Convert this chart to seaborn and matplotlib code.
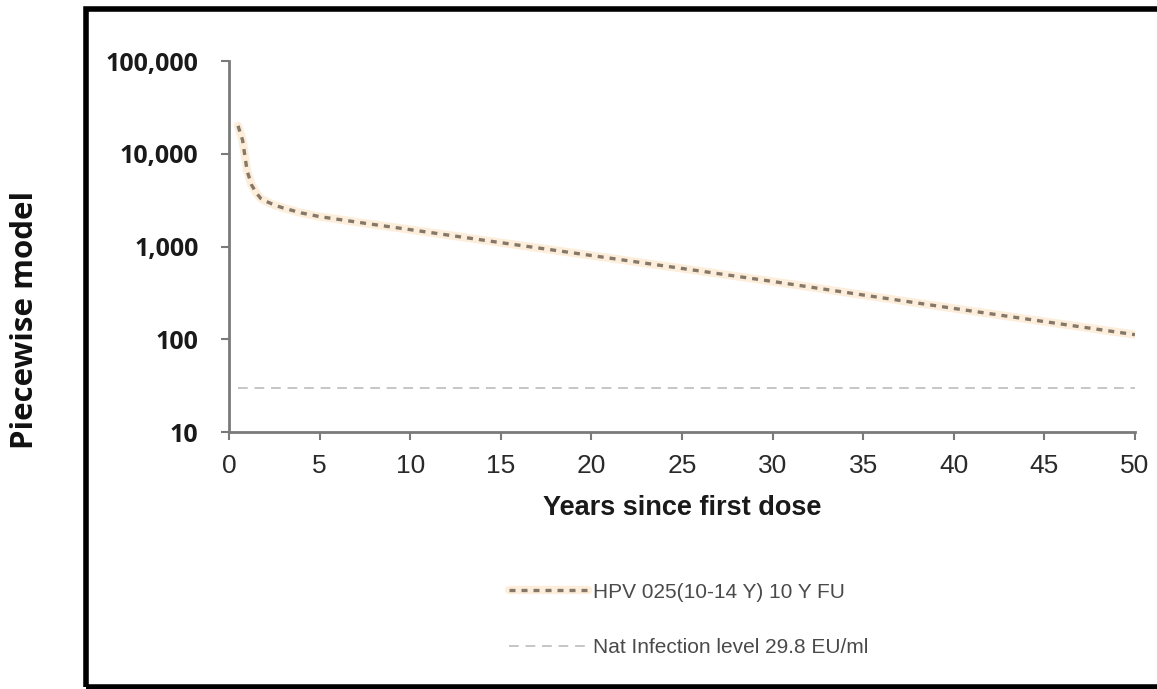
import numpy as np
import pandas as pd
import matplotlib
matplotlib.use("Agg")
import matplotlib.pyplot as plt
from matplotlib.lines import Line2D
from matplotlib.patches import Rectangle
from matplotlib.ticker import FixedLocator, NullLocator
from matplotlib.legend_handler import HandlerTuple
import seaborn as sns

# Modelled antibody titre over time (piecewise model)
years = [0.5, 0.75, 1.0, 1.25, 1.5, 1.75, 2.0, 2.5, 3.0, 4.0, 5.0, 7.5,
         10, 15, 20, 25, 30, 35, 40, 45, 50]
titre = [20000, 14000, 6500, 4600, 3800, 3300, 3100, 2800, 2600, 2300, 2100,
         1780, 1520, 1100, 800, 580, 420, 300, 215, 155, 112]

# Natural infection reference level
nat_years = [0.5, 50]
nat_level = [29.8, 29.8]

series_label = "HPV 025(10-14 Y) 10 Y FU"
nat_label = "Nat Infection level 29.8 EU/ml"

y_ticks = [10, 100, 1000, 10000, 100000]
y_ticklabels = ["10", "100", "1,000", "10,000", "100,000"]
x_ticks = [0, 5, 10, 15, 20, 25, 30, 35, 40, 45, 50]

sns.set_theme(style="white")
plt.rcParams["font.family"] = ["Liberation Sans", "DejaVu Sans"]

fig = plt.figure(figsize=(11.57, 6.89), dpi=100)
ax = fig.add_axes([229 / 1157, 1 - 432 / 689, (1135 - 229) / 1157, (432 - 61) / 689])

df = pd.DataFrame({"years": years, "titre": titre})
nat_df = pd.DataFrame({"years": nat_years, "level": nat_level})

glow_color = "#fdeedc"
dot_color = "#857868"
nat_color = "#c6c6c6"
dot_dashes = (1.8, 1.8)

sns.lineplot(data=df, x="years", y="titre", ax=ax, color=glow_color,
             linewidth=6, solid_capstyle="round", zorder=2)
sns.lineplot(data=df, x="years", y="titre", ax=ax, color=dot_color,
             linewidth=2.4, zorder=3)
ax.lines[-1].set_dashes(dot_dashes)
sns.lineplot(data=nat_df, x="years", y="level", ax=ax, color=nat_color,
             linewidth=1.4, zorder=2)
ax.lines[-1].set_dashes((5, 3.5))

ax.set_yscale("log")
ax.set_ylim(10, 100000)
ax.set_xlim(0, 50)
ax.yaxis.set_major_locator(FixedLocator(y_ticks))
ax.yaxis.set_minor_locator(NullLocator())
ax.set_yticklabels(y_ticklabels, fontfamily=["Open Sans", "DejaVu Sans"],
                   fontweight="bold", fontsize=18, color="#1a1a1a")
ax.xaxis.set_major_locator(FixedLocator(x_ticks))
ax.set_xticklabels([str(v) for v in x_ticks], fontsize=19, color="#2a2a2a")

for side in ("top", "right"):
    ax.spines[side].set_visible(False)
for side in ("left", "bottom"):
    ax.spines[side].set_color("#7a7a7a")
    ax.spines[side].set_linewidth(2)
ax.tick_params(axis="both", which="major", direction="out", length=6,
               width=1.5, color="#7a7a7a", left=True, bottom=True)
ax.tick_params(axis="y", pad=16)
ax.tick_params(axis="x", pad=10)
ax.grid(False)

ax.set_xlabel("Years since first dose", fontsize=19.5, fontweight="bold",
              color="#1a1a1a", labelpad=12)
ax.set_ylabel("")
fig.text(25 / 1157, 1 - 320 / 689, "Piecewise model", rotation=90,
         ha="center", va="center", fontsize=22.5, fontweight="bold",
         fontfamily=["Open Sans", "DejaVu Sans"], color="#111111")

# Legend below the axes
h1 = (Line2D([], [], color=glow_color, linewidth=6),
      Line2D([], [], color=dot_color, linewidth=2.4, dashes=dot_dashes))
h2 = Line2D([], [], color=nat_color, linewidth=1.4, dashes=(5, 3.5))
leg = fig.legend([h1, h2], [series_label, nat_label],
                 loc="upper left", bbox_to_anchor=(490 / 1157, 1 - 564 / 689),
                 frameon=False, fontsize=15, handlelength=3.8,
                 handletextpad=0.25, labelspacing=1.75,
                 handler_map={tuple: HandlerTuple(ndivide=1)})
for t in leg.get_texts():
    t.set_color("#4a4a4a")

# Outer frame around the chart
fig.patches.append(Rectangle((86 / 1157, 2 / 689), 1.2, 1 - 11 / 689,
                             transform=fig.transFigure, fill=False,
                             edgecolor="black", linewidth=4, zorder=0))

fig.savefig("out.png", dpi=100, facecolor="white")
